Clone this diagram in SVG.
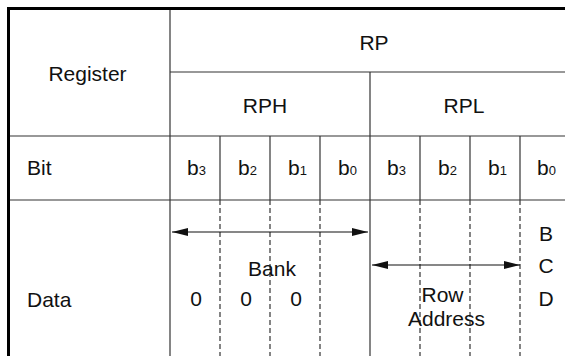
<svg xmlns="http://www.w3.org/2000/svg" width="565" height="356" viewBox="0 0 565 356">
<style>
.t{font-family:"Liberation Sans",Arial,sans-serif;font-size:21px;fill:#111}
.s{font-size:13px}
.g{stroke:#333;stroke-width:1.2;fill:none}
.d{stroke:#333;stroke-width:1.2;stroke-dasharray:5,3;fill:none}
.b{stroke:#000;stroke-width:3;fill:none}
.a{stroke:#111;stroke-width:1.2;fill:none}
</style>
<defs>
<marker id="ah" viewBox="0 0 16 8" refX="16" refY="4" markerWidth="16" markerHeight="8" markerUnits="userSpaceOnUse" orient="auto-start-reverse">
<path d="M0,0 L16,4 L0,8 Z" fill="#111"/>
</marker>
</defs>
<rect width="565" height="356" fill="#fff"/>
<g id="grid">
<line class="g" x1="170" y1="72" x2="565" y2="72"/>
<line class="g" x1="8" y1="136" x2="565" y2="136"/>
<line class="g" x1="8" y1="200" x2="565" y2="200"/>
<line class="g" x1="170" y1="8" x2="170" y2="356"/>
<line class="g" x1="370" y1="72" x2="370" y2="356"/>
<line class="g" x1="220" y1="136" x2="220" y2="200"/>
<line class="g" x1="270" y1="136" x2="270" y2="200"/>
<line class="g" x1="320" y1="136" x2="320" y2="200"/>
<line class="g" x1="420" y1="136" x2="420" y2="200"/>
<line class="g" x1="470" y1="136" x2="470" y2="200"/>
<line class="g" x1="520" y1="136" x2="520" y2="200"/>
<line class="d" x1="220" y1="200" x2="220" y2="356"/>
<line class="d" x1="270" y1="200" x2="270" y2="356"/>
<line class="d" x1="320" y1="200" x2="320" y2="356"/>
<line class="d" x1="420" y1="200" x2="420" y2="356"/>
<line class="d" x1="470" y1="200" x2="470" y2="356"/>
<line class="d" x1="520" y1="200" x2="520" y2="356"/>
<line class="b" x1="8.5" y1="8.5" x2="565" y2="8.5"/>
<line class="b" x1="8.5" y1="7" x2="8.5" y2="356"/>
</g>
<g id="headers">
<text class="t" x="87.5" y="81" text-anchor="middle">Register</text>
<text class="t" x="374" y="50" text-anchor="middle">RP</text>
<text class="t" x="265" y="113" text-anchor="middle">RPH</text>
<text class="t" x="464" y="113" text-anchor="middle">RPL</text>
<text class="t" x="27" y="175">Bit</text>
<text class="t" x="27" y="307">Data</text>
</g>
<g id="bits">
<text class="t" x="187" y="175">b<tspan class="s">3</tspan></text>
<text class="t" x="238" y="175">b<tspan class="s">2</tspan></text>
<text class="t" x="288" y="175">b<tspan class="s">1</tspan></text>
<text class="t" x="338" y="175">b<tspan class="s">0</tspan></text>
<text class="t" x="387" y="175">b<tspan class="s">3</tspan></text>
<text class="t" x="438" y="175">b<tspan class="s">2</tspan></text>
<text class="t" x="488" y="175">b<tspan class="s">1</tspan></text>
<text class="t" x="537" y="175">b<tspan class="s">0</tspan></text>
</g>
<g id="connectors">
<line class="a" x1="172" y1="232" x2="368" y2="232" marker-start="url(#ah)" marker-end="url(#ah)"/>
<line class="a" x1="372" y1="265" x2="520" y2="265" marker-start="url(#ah)" marker-end="url(#ah)"/>
</g>
<g id="data">
<text class="t" x="272" y="276" text-anchor="middle">Bank</text>
<text class="t" x="196" y="306" text-anchor="middle">0</text>
<text class="t" x="246" y="306" text-anchor="middle">0</text>
<text class="t" x="296" y="306" text-anchor="middle">0</text>
<text class="t" x="442.5" y="302" text-anchor="middle">Row</text>
<text class="t" x="446.5" y="326" text-anchor="middle">Address</text>
<text class="t" x="546" y="241" text-anchor="middle">B</text>
<text class="t" x="546" y="273" text-anchor="middle">C</text>
<text class="t" x="546" y="306" text-anchor="middle">D</text>
</g>
</svg>
